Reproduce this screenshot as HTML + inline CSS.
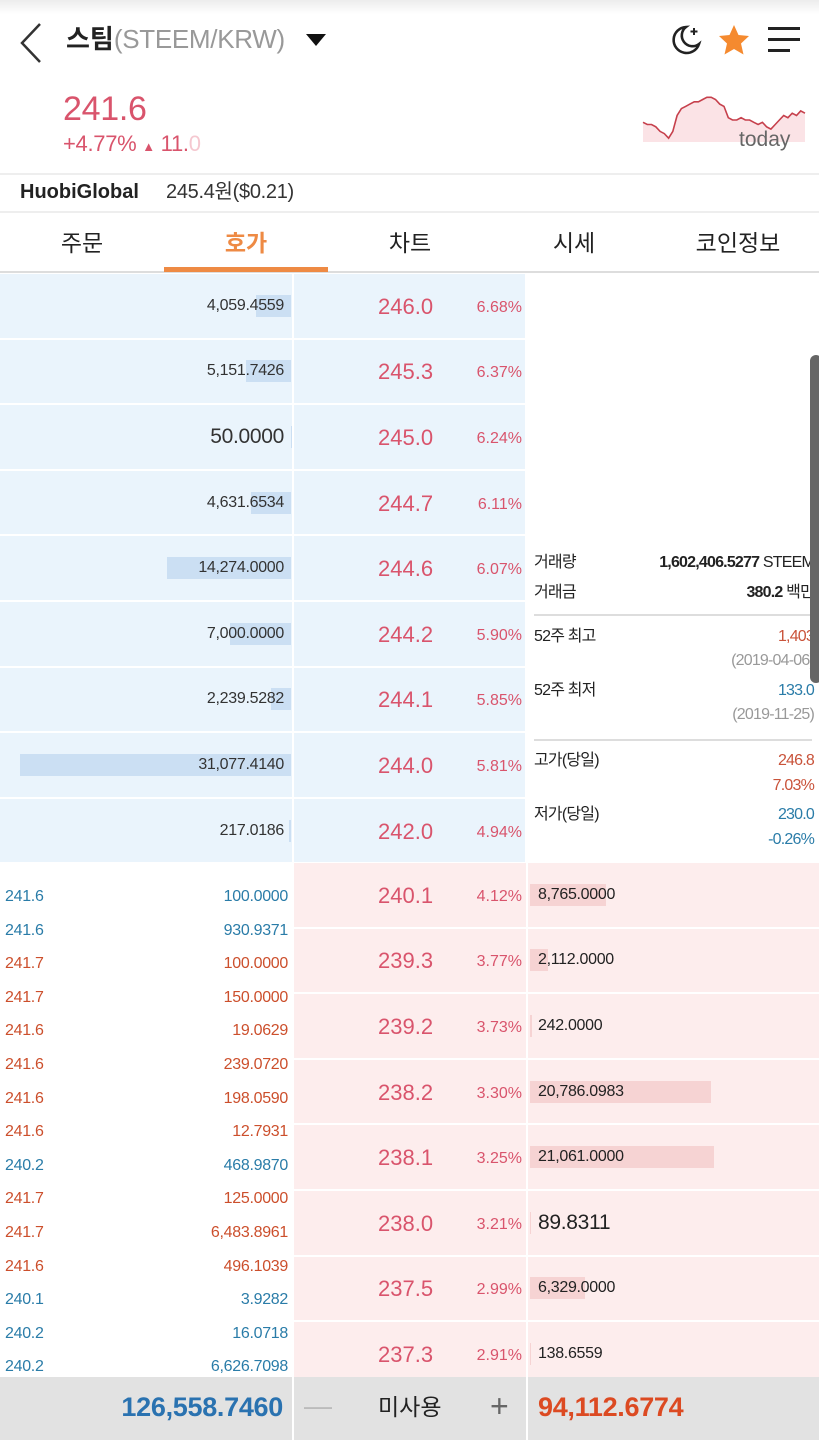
<!DOCTYPE html>
<html><head><meta charset="utf-8">
<style>
*{margin:0;padding:0;box-sizing:border-box}
body{width:819px;height:1440px;overflow:hidden;background:#fff;font-family:"Liberation Sans","Noto Sans CJK KR",sans-serif;position:relative;color:#222;line-height:1.15}
.a{position:absolute;white-space:nowrap}
.n{letter-spacing:-0.3px}
</style></head><body>
<div class="a" style="left:0;top:0;width:819px;height:14px;background:linear-gradient(#ececec,#fff)"></div>
<svg class="a" style="left:18px;top:22px" width="26" height="42"><polyline points="22,2 4,21 22,40" fill="none" stroke="#333" stroke-width="2.5"/></svg>
<div class="a" style="left:66px;top:25px;font-size:26px;font-weight:bold;color:#222">스팀<span style="font-weight:normal;color:#999" class="n">(STEEM/KRW)</span></div>
<svg class="a" style="left:305px;top:33px" width="22" height="14"><polygon points="1,1 21,1 11,13" fill="#111"/></svg>
<svg class="a" style="left:670px;top:24px" width="32" height="32"><path d="M16 3 A13 13 0 1 0 29 20 A10 10 0 0 1 16 3 Z" fill="none" stroke="#222" stroke-width="2.6"/><path d="M24 4 v7 M20.5 7.5 h7" stroke="#222" stroke-width="2"/></svg>
<svg class="a" style="left:718px;top:24px" width="32" height="32"><polygon points="16,1 20.5,11 31,12 23,19.5 25.5,30.5 16,25 6.5,30.5 9,19.5 1,12 11.5,11" fill="#f58a2f"/></svg>
<svg class="a" style="left:768px;top:27px" width="34" height="26"><rect x="0" y="0" width="32" height="3" fill="#222"/><rect x="0" y="11" width="32" height="3" fill="#222"/><rect x="0" y="22" width="22" height="3" fill="#222"/></svg>

<div class="a n" style="left:63px;top:90px;font-size:34px;color:#d9546c">241.6</div>
<div class="a n" style="left:63px;top:131px;font-size:22px;color:#d9546c">+4.77% <span style="font-size:13px">▲</span> 11.<span style="color:#f5c8d0">0</span></div>
<svg class="a" id="spark" style="left:640px;top:90px" width="170" height="60"></svg>
<div class="a" style="left:739px;top:128px;font-size:21px;color:#666">today</div>

<div class="a" style="left:0;top:173px;width:819px;height:2px;background:#eee"></div>
<div class="a" style="left:20px;top:181px;font-size:20px;font-weight:bold;color:#222">HuobiGlobal</div>
<div class="a n" style="left:166px;top:181px;font-size:20px;color:#333">245.4원($0.21)</div>
<div class="a" style="left:0;top:211px;width:819px;height:2px;background:#eee"></div>

<div id="tabs"></div>
<div class="a" style="left:0;top:271px;width:819px;height:2px;background:#ddd"></div>
<div class="a" style="left:164px;top:267px;width:164px;height:5px;background:#ee8a44"></div>

<div id="book"></div>

<div class="a" style="left:534px;top:540px;width:280px;height:320px;font-size:16px;letter-spacing:-0.8px">
 <div class="a" style="left:0;top:14px">거래량</div><div class="a" style="right:0;top:14px"><b>1,602,406.5277</b> STEEM</div>
 <div class="a" style="left:0;top:44px">거래금</div><div class="a" style="right:0;top:44px"><b>380.2</b> 백만</div>
 <div class="a" style="left:0;top:74px;width:278px;height:2px;background:#ddd"></div>
 <div class="a" style="left:0;top:88px">52주 최고</div><div class="a" style="right:0;top:88px;color:#c9533a">1,403</div>
 <div class="a" style="right:0;top:112px;color:#999">(2019-04-06)</div>
 <div class="a" style="left:0;top:142px">52주 최저</div><div class="a" style="right:0;top:142px;color:#2a7ca8">133.0</div>
 <div class="a" style="right:0;top:166px;color:#999">(2019-11-25)</div>
 <div class="a" style="left:0;top:199px;width:278px;height:2px;background:#ddd"></div>
 <div class="a" style="left:0;top:212px">고가(당일)</div><div class="a" style="right:0;top:212px;color:#c9533a">246.8</div>
 <div class="a" style="right:0;top:237px;color:#c9533a">7.03%</div>
 <div class="a" style="left:0;top:266px">저가(당일)</div><div class="a" style="right:0;top:266px;color:#2a7ca8">230.0</div>
 <div class="a" style="right:0;top:291px;color:#2a7ca8">-0.26%</div>
</div>
<div class="a" style="left:810px;top:355px;width:12px;height:328px;border-radius:6px;background:#666"></div>

<div class="a" style="left:0;top:1377px;width:819px;height:63px;background:#e2e2e2"></div>
<div class="a" style="left:292px;top:1377px;width:2px;height:63px;background:#fff"></div>
<div class="a" style="left:526px;top:1377px;width:2px;height:63px;background:#fff"></div>
<div class="a n" style="right:536px;top:1392px;font-size:27px;font-weight:bold;color:#2a72b0">126,558.7460</div>
<div class="a" style="left:304px;top:1390px;font-size:28px;color:#bbb">—</div>
<div class="a" style="left:378px;top:1394px;font-size:23px;color:#222">미사용</div>
<div class="a" style="left:490px;top:1388px;font-size:32px;color:#666">+</div>
<div class="a n" style="left:538px;top:1392px;font-size:27px;font-weight:bold;color:#dc4a22">94,112.6774</div>

<script>
const tabLabels=['주문','호가','차트','시세','코인정보'];
const askPrices=['246.0','245.3','245.0','244.7','244.6','244.2','244.1','244.0','242.0'];
const askPct=['6.68%','6.37%','6.24%','6.11%','6.07%','5.90%','5.85%','5.81%','4.94%'];
const askVol=[4059.4559,5151.7426,50.0,4631.6534,14274.0,7000.0,2239.5282,31077.414,217.0186];
const bidPrices=['240.1','239.3','239.2','238.2','238.1','238.0','237.5','237.3'];
const bidPct=['4.12%','3.77%','3.73%','3.30%','3.25%','3.21%','2.99%','2.91%'];
const bidVol=[8765.0,2112.0,242.0,20786.0983,21061.0,89.8311,6329.0,138.6559];
const tradePrice=['241.6','241.6','241.7','241.7','241.6','241.6','241.6','241.6','240.2','241.7','241.7','241.6','240.1','240.2','240.2'];
const tradeAmt=['100.0000','930.9371','100.0000','150.0000','19.0629','239.0720','198.0590','12.7931','468.9870','125.0000','6,483.8961','496.1039','3.9282','16.0718','6,626.7098'];
const tradeSide=['b','b','s','s','s','s','s','s','b','s','s','s','b','b','b'];
const sparkVals=[240,239,239,238,236,235,233,236,243,246,247,248,249,249,250,251,251,250,248,247,242,241,241,242,241,241,240,239,240,238,237,239,241,243,242,244,243,245,244];

function fmt(v){return v.toLocaleString('en-US',{minimumFractionDigits:4,maximumFractionDigits:4});}
const volScale=v=>v*0.00872;

const tabs=document.getElementById('tabs');
tabLabels.forEach((t,i)=>{const d=document.createElement('div');d.className='a';


d.style.cssText=`left:${i*164}px;top:230px;width:164px;text-align:center;font-size:23px;color:${i==1?'#ee8a44':'#222'};${i==1?'font-weight:bold;':''}`;d.textContent=t;tabs.appendChild(d);});

const book=document.getElementById('book');
function add(css,html,name,inter){const d=document.createElement('div');d.className='a';d.style.cssText=css;if(html!==null)d.innerHTML=html;


book.appendChild(d);return d;}
const rowH=65.6;
askPrices.forEach((p,i)=>{const y=274+i*rowH,h=rowH-2,cy=y+h/2;
 add(`left:0;top:${y}px;width:292px;height:${h}px;background:#eaf4fc`,'','ask-volume-cell',false);
 add(`left:294px;top:${y}px;width:231px;height:${h}px;background:#eaf4fc`,'','ask-price-cell',true);
 const w=volScale(askVol[i]);
 add(`left:${291-w}px;top:${cy-11}px;width:${w}px;height:22px;background:#cbdff3`,'','ask-depth-bar',false);
 const big=askVol[i]<100;
 add(`right:${819-284}px;top:${cy-(big?12:9)}px;font-size:${big?21:16}px;color:#333`,fmt(askVol[i]),'ask-volume',false).classList.add('n');
 add(`left:378px;top:${cy-12}px;font-size:22px;color:#d9546c`,p,'ask-price',true);
 add(`right:${819-522}px;top:${cy-7}px;font-size:16px;color:#d9546c`,askPct[i],'ask-percent',false);
});
bidPrices.forEach((p,i)=>{const y=863+i*rowH,h=rowH-2,cy=y+h/2;
 add(`left:294px;top:${y}px;width:232px;height:${h}px;background:#fdeded`,'','bid-price-cell',true);
 add(`left:528px;top:${y}px;width:291px;height:${h}px;background:#fdeded`,'','bid-volume-cell',false);
 const w=volScale(bidVol[i]);
 add(`left:530px;top:${cy-11}px;width:${w}px;height:22px;background:#f6d3d3`,'','bid-depth-bar',false);
 const big=bidVol[i]<100;
 add(`left:538px;top:${cy-(big?12:9)}px;font-size:${big?21:16}px;color:#222`,fmt(bidVol[i]),'bid-volume',false).classList.add('n');
 add(`left:378px;top:${cy-12}px;font-size:22px;color:#d9546c`,p,'bid-price',true);
 add(`right:${819-522}px;top:${cy-7}px;font-size:16px;color:#d9546c`,bidPct[i],'bid-percent',false);
});
tradePrice.forEach((p,i)=>{const cy=897+i*33.6;const c=tradeSide[i]=='b'?'#2a7ca8':'#cc4f2c';
 add(`left:5px;top:${cy-9}px;font-size:16px;color:${c}`,p,'trade-price',false).classList.add('n');
 add(`right:${819-288}px;top:${cy-9}px;font-size:16px;color:${c}`,tradeAmt[i],'trade-amount',false).classList.add('n');
});

const sv=document.getElementById('spark');
const mn=230,mx=252,W=165,H=50;
const xs=i=>3+i*(W-3)/(sparkVals.length-1), ys=v=>5+(mx-v)/(mx-mn)*H;
let pts=sparkVals.map((v,i)=>xs(i).toFixed(1)+','+ys(v).toFixed(1)).join(' ');
const area=document.createElementNS('http://www.w3.org/2000/svg','polygon');
area.setAttribute('points',pts+` ${xs(sparkVals.length-1)},52 3,52`);
area.setAttribute('fill','#fbe3e6');


sv.appendChild(area);
const ln=document.createElementNS('http://www.w3.org/2000/svg','polyline');
ln.setAttribute('points',pts);ln.setAttribute('fill','none');ln.setAttribute('stroke','#c6404c');ln.setAttribute('stroke-width','1.6');


sv.appendChild(ln);
</script>
</body></html>
